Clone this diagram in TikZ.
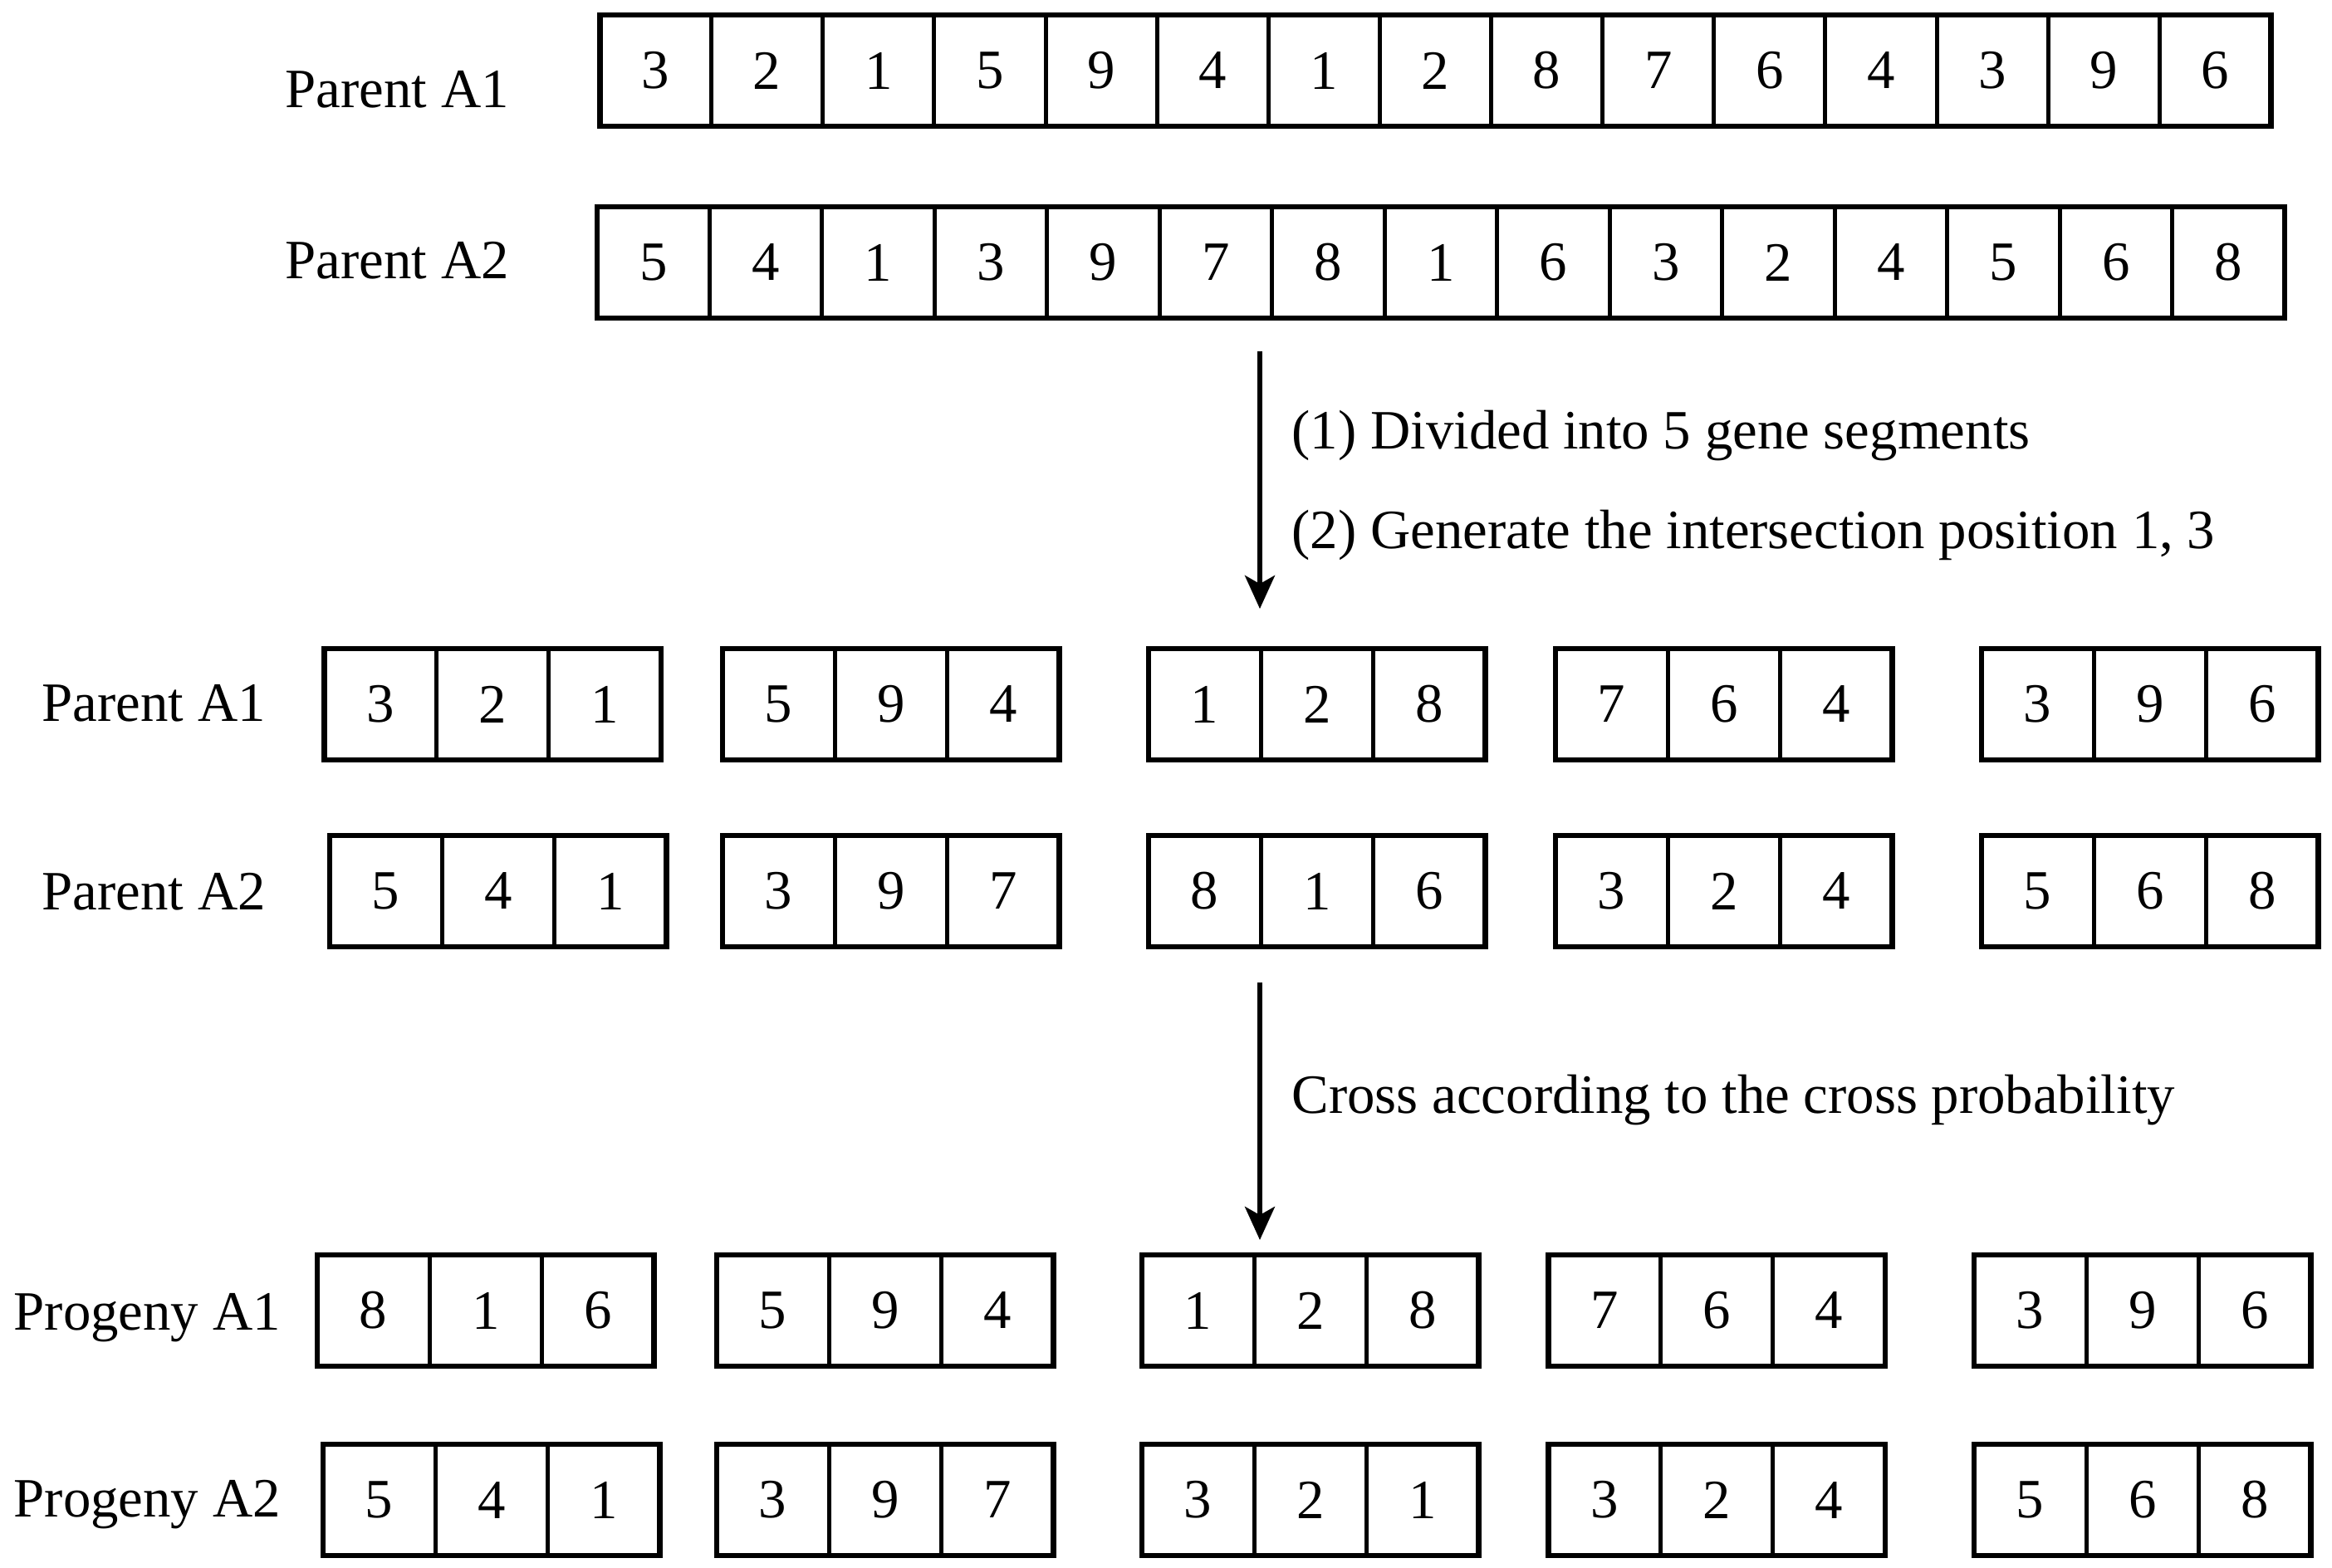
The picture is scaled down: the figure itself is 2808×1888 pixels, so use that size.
\documentclass[tikz,border=0pt]{standalone}
\usepackage{fontspec}
\setmainfont{Liberation Serif}
\usetikzlibrary{arrows.meta}
\newcommand{\generow}[6]{%
  \foreach \dg [count=\ci] in {#5} {
    \node[cellbox, minimum width={#4*0.01cm}] (#1-\ci) at ({#2+(\ci-0.5)*#4},{#3+67}) {\dg};
  }
  \draw[frame] (#1-1.north west) rectangle (#1-#6.south east);
}
\begin{document}
\begin{tikzpicture}[x=0.01cm, y=-0.01cm,
  every node/.style={font=\fontsize{19}{23}\selectfont},
  cellbox/.style={draw, line width=0.05cm, minimum height=1.34cm, inner sep=0pt, outer sep=0pt},
  frame/.style={line width=0.065cm},
  lbl/.style={anchor=base west, inner sep=0pt},
  arr/.style={line width=0.055cm, -{Stealth[length=0.4cm, width=0.36cm, inset=0.1cm]}}]
\useasboundingbox (0,0) rectangle (2808,1888);

% top rows
\generow{pa}{722.5}{18}{134.13}{3,2,1,5,9,4,1,2,8,7,6,4,3,9,6}{15}
\generow{pb}{719}{249}{135.47}{5,4,1,3,9,7,8,1,6,3,2,4,5,6,8}{15}
\node[lbl] (lpa) at (343,130) {Parent A1};
\node[lbl] (lpb) at (343,336) {Parent A2};

% arrow 1
\coordinate (a1s) at (1517,423);
\coordinate (a1e) at (1517,733);
\draw[arr] (a1s) -- (a1e);
\node[lbl] (t1) at (1555,540) {(1) Divided into 5 gene segments};
\node[lbl] (t2) at (1555,660) {(2) Generate the intersection position 1, 3};

% segmented parents
\generow{sa1}{390.5}{781}{135.17}{3,2,1}{3}
\generow{sa2}{870}{781}{135.17}{5,9,4}{3}
\generow{sa3}{1383}{781}{135.17}{1,2,8}{3}
\generow{sa4}{1873}{781}{135.17}{7,6,4}{3}
\generow{sa5}{2386}{781}{135.17}{3,9,6}{3}
\node[lbl] (lsa) at (50,868) {Parent A1};

\generow{sb1}{397}{1006}{135.17}{5,4,1}{3}
\generow{sb2}{870}{1006}{135.17}{3,9,7}{3}
\generow{sb3}{1383}{1006}{135.17}{8,1,6}{3}
\generow{sb4}{1873}{1006}{135.17}{3,2,4}{3}
\generow{sb5}{2386}{1006}{135.17}{5,6,8}{3}
\node[lbl] (lsb) at (50,1095) {Parent A2};

% arrow 2
\coordinate (a2s) at (1517,1183);
\coordinate (a2e) at (1517,1493);
\draw[arr] (a2s) -- (a2e);
\node[lbl] (t3) at (1555,1340) {Cross according to the cross probability};

% progeny
\generow{oa1}{382}{1511}{135.17}{8,1,6}{3}
\generow{oa2}{863}{1511}{135.17}{5,9,4}{3}
\generow{oa3}{1375}{1511}{135.17}{1,2,8}{3}
\generow{oa4}{1864.5}{1511}{135.17}{7,6,4}{3}
\generow{oa5}{2377}{1511}{135.17}{3,9,6}{3}
\node[lbl] (loa) at (16,1601) {Progeny A1};

\generow{ob1}{389}{1739}{135.17}{5,4,1}{3}
\generow{ob2}{863}{1739}{135.17}{3,9,7}{3}
\generow{ob3}{1375}{1739}{135.17}{3,2,1}{3}
\generow{ob4}{1864.5}{1739}{135.17}{3,2,4}{3}
\generow{ob5}{2377}{1739}{135.17}{5,6,8}{3}
\node[lbl] (lob) at (16,1826) {Progeny A2};
\end{tikzpicture}
\end{document}
